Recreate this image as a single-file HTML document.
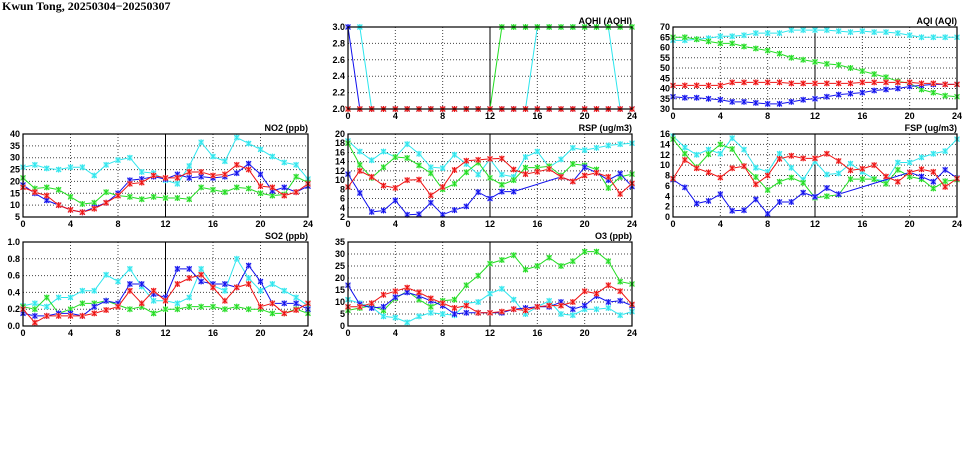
<!DOCTYPE html>
<html><head><meta charset="utf-8">
<style>
body{margin:0;background:#fff;width:975px;height:447px;overflow:hidden}
svg text{font-family:"Liberation Sans",sans-serif;font-weight:bold;font-size:9px;fill:#000}
</style></head>
<body>
<svg id="s" width="975" height="447" xmlns="http://www.w3.org/2000/svg">
<text x="2" y="10" style="font-family:'Liberation Serif',serif;font-size:12px">Kwun Tong, 20250304−20250307</text>
</svg>
<script>
const N=null;
const C={c:"#2ee6ee",g:"#22dd22",b:"#1010ee",r:"#ee1111"};
const L={c:"#a0f4f6",g:"#a0f0a0",b:"#9a9af6",r:"#f6a0a0"};
const panels=[
{t:"AQHI (AQHI)",x0:348,x1:632,y0:27,y1:109,min:2,max:3,ticks:[2,2.2,2.4,2.6,2.8,3],fmt:v=>v.toFixed(1),s:{
b:[3,2,2,2,2,2,2,2,2,2,2,2,2,2,2,2,2,2,2,2,2,2,2,2,2],
c:[N,3,2,2,2,2,2,2,2,2,2,2,2,2,2,2,3,3,3,3,3,3,3,2,2],
g:[2,2,2,2,2,2,2,2,2,2,2,2,2,3,3,3,3,3,3,3,3,3,3,3,3],
r:[2,2,2,2,2,2,2,2,2,2,2,2,2,2,2,2,2,2,2,2,2,2,2,2,2]}},
{t:"AQI (AQI)",x0:673,x1:957,y0:27,y1:109,min:30,max:70,ticks:[30,35,40,45,50,55,60,65,70],s:{
c:[63.5,63.5,64,64.5,65.5,65.5,66,67,67,67,68.5,68.5,68.5,68.5,68,67.5,68,67.5,67.5,67,66,65,65,65,65],
g:[65,65,64,63,62,62,60.5,59.5,58.5,57,55,54,53,52,51.5,50,48.5,47,45.5,43.5,42.5,39.5,38,36.5,36],
r:[41.5,41.5,41.5,41.5,41.5,43,43,43,43,43,42.5,42.5,42.5,42.5,42.5,42.5,43,43,43,43,43,42.5,42.5,42,42],
b:[36,35.5,35.5,35,34.5,33.5,33.5,33,32.5,32.5,33.5,34.5,35,36,37,37.5,38,39,39.5,40,41,41.5,42,42,42]}},
{t:"NO2 (ppb)",x0:23,x1:308,y0:134,y1:217,min:5,max:40,ticks:[5,10,15,20,25,30,35,40],s:{
c:[26,27,25.5,25,26,26,22.5,27,29,30,24,23.5,20.5,19,26.5,36.5,30.5,28.5,38.5,36,33.5,30.5,28,27,21],
g:[21.5,17,17.5,16.5,13.5,10.5,11,15.5,14,13.5,12.5,13.5,13,13,12.5,17.5,16.5,15.5,17.5,17,15,14,14.5,22,19.5],
b:[18.5,15,12,10,8,7,9,11,15,20.5,21,22,21,23,21.5,22,21.5,22,23.5,27.5,23,16,17.5,15.5,18],
r:[17.5,15.5,14,10,8,7,8.5,11,14,19,19.5,22.5,21.5,21.5,24,24,22.5,23,27,25,18,17.5,14,15.5,19]}},
{t:"RSP (ug/m3)",x0:348,x1:632,y0:134,y1:217,min:2,max:20,ticks:[2,4,6,8,10,12,14,16,18,20],s:{
c:[18.5,16.2,14.3,16.2,15,17.8,15.7,12.8,12.6,15.5,13.5,11.2,14.5,11.2,10.7,15,16.2,12.8,14.5,17,16.5,17,17.5,17.8,18],
g:[18,13.3,10.5,12.8,15,14.8,13.2,11.5,8,9.2,11.7,13.8,10.5,9,10,12.7,12.7,13,11,13.5,13.2,12.3,8.3,10.7,11.3],
r:[8.5,12,10.7,8.8,8.3,10,10.1,6.7,8.5,12.2,14.2,14.4,14.6,14.7,12.3,11.3,11.8,12.4,10.7,9.7,11,11.6,10.7,7,9.3],
b:[11.3,7.2,3.1,3.4,5.6,2.5,2.6,5.1,2.5,3.5,4.3,7.4,6,7.5,7.5,N,N,N,10.7,9.7,12.8,11.6,10,11.4,8.6]}},
{t:"FSP (ug/m3)",x0:673,x1:957,y0:134,y1:217,min:0,max:16,ticks:[0,2,4,6,8,10,12,14,16],s:{
c:[15.6,13.4,12,13,12.2,15.2,13,9.5,8.7,12.2,9.5,7.2,10.7,8.2,8.4,10.3,8.7,7.3,6.9,10.5,10.5,11.5,12.2,12.7,15],
g:[15,12.2,9.6,12.1,14,13.1,9.8,7.7,5.2,6.8,7.6,6.6,3.7,4,4.3,7.3,7.3,7.3,6.4,9.1,7.8,7.3,5.5,6.9,7.2],
r:[7.4,11,9.4,8.6,7.6,9.4,9.8,6.3,8,11.2,11.8,11.3,11.3,12.2,10.8,9,9.3,10,7.8,6.8,8.6,9.2,8.7,5.8,7.4],
b:[7.2,5.7,2.6,3.1,4.4,1.2,1.3,3.4,0.6,2.9,2.9,4.7,3.9,5.6,4.4,N,N,N,N,N,8.6,7.8,6.8,9.1,7.5]}},
{t:"SO2 (ppb)",x0:23,x1:308,y0:242,y1:326,min:0,max:1,ticks:[0,0.2,0.4,0.6,0.8,1],fmt:v=>v.toFixed(1),s:{
c:[.24,.27,.23,.34,.34,.42,.42,.61,.53,.68,.47,.3,.3,.27,.34,.68,.48,.42,.8,.57,.42,.5,.42,.34,.24],
g:[.23,.2,.34,.15,.2,.27,.27,.3,.25,.2,.23,.15,.2,.2,.23,.23,.23,.2,.23,.2,.2,.15,.15,.2,.15],
b:[.15,.12,.12,.15,.15,.12,.23,.3,.27,.5,.5,.38,.34,.68,.68,.53,.5,.5,.46,.72,.53,.27,.27,.27,.2],
r:[.2,.04,.12,.12,.12,.12,.15,.19,.23,.42,.27,.42,.3,.5,.57,.61,.46,.3,.46,.5,.23,.27,.15,.19,.27]}},
{t:"O3 (ppb)",x0:348,x1:632,y0:242,y1:326,min:0,max:35,ticks:[0,5,10,15,20,25,30,35],s:{
g:[6.5,7.5,8.5,6.5,11.5,14.5,11,8,10.5,11,17,21,26,27.5,29.5,23.5,25,28.5,25,27,31,31,27,18.5,17.5],
c:[11,9.5,8,4,3.5,1.5,4,5.5,5,4.5,9.5,10,13.5,15.5,11,5,8,10.5,5,4.5,7,7,7.5,4.5,6],
r:[8,8,9.5,13,14.5,16,14,11.5,9.5,7.5,8.5,5.5,5.5,6,7,6.5,8,8.5,8.5,10,14.5,13.5,17,14.5,9],
b:[17,9,7.5,8,12,14,12.5,10.5,8.5,5,5.5,5.5,5.5,5.5,7,7.5,8,8,10,7,8.5,12.5,10,10.5,8.5]}}
];
let h="";
for(const p of panels){
 const X=i=>p.x0+(p.x1-p.x0)*i/24, Y=v=>p.y1-(p.y1-p.y0)*(v-p.min)/(p.max-p.min);
 const f=p.fmt||(v=>String(v));
 h+=`<text x="${p.x1}" y="${p.y0-3}" text-anchor="end">${p.t}</text>`;
 for(const t of p.ticks){const y=Y(t);
  if(t!==p.min&&t!==p.max)h+=`<line x1="${p.x0}" x2="${p.x1}" y1="${y}" y2="${y}" stroke="#444" stroke-dasharray="1,2"/>`;
  h+=`<text x="${p.x0-3}" y="${y+3}" text-anchor="end">${f(t)}</text>`;}
 for(let i=0;i<=24;i+=4){const x=X(i);
  if(i>0&&i<24)h+=`<line x1="${x}" x2="${x}" y1="${p.y0}" y2="${p.y1}" stroke="${i==12?'#000':'#444'}" ${i==12?'':'stroke-dasharray="1,2"'}/>`;
  h+=`<text x="${x}" y="${p.y1+10}" text-anchor="middle">${i}</text>`;}
 for(const k of ["c","g","b","r"]){const d=p.s[k];if(!d)continue;
  let pts=[];d.forEach((v,i)=>{if(v!==null)pts.push([X(i),Y(v)])});
  h+=`<polyline fill="none" stroke="${C[k]}" stroke-width="1" points="${pts.map(q=>q.join(',')).join(' ')}"/>`;
  for(const [x,y] of pts){h+=`<rect x="${x-2.5}" y="${y-2.5}" width="5" height="5" fill="${L[k]}"/><path d="M${x-2.5} ${y-2.5}L${x+2.5} ${y+2.5}M${x+2.5} ${y-2.5}L${x-2.5} ${y+2.5}M${x} ${y-3}V${y+3}" stroke="${C[k]}" stroke-width="1"/>`;}
 }
 h+=`<rect x="${p.x0}" y="${p.y0}" width="${p.x1-p.x0}" height="${p.y1-p.y0}" fill="none" stroke="#000" stroke-width="1.2"/>`;
}
document.getElementById("s").insertAdjacentHTML("beforeend",h);
</script>
</body></html>
